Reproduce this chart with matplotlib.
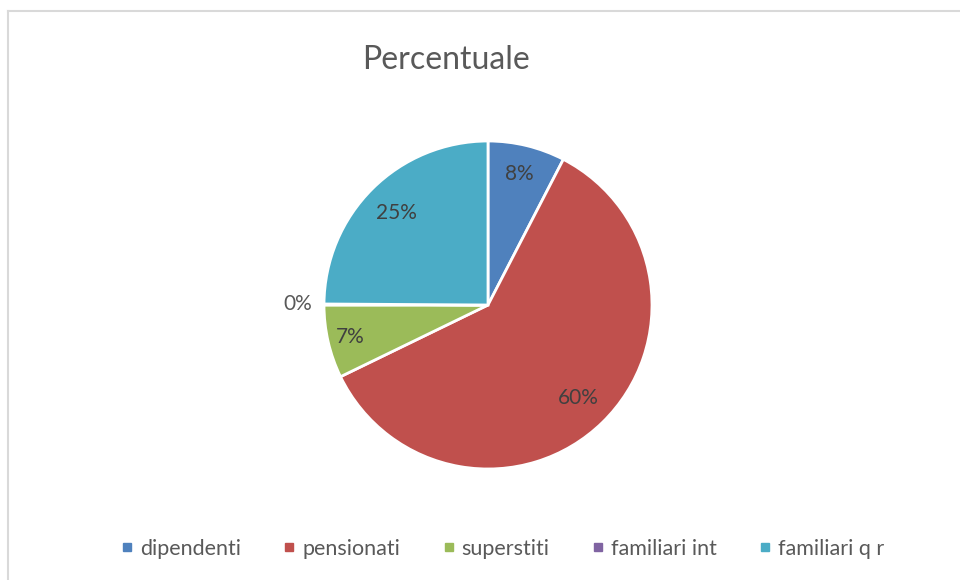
""" Grafico a torta: Percentuale
"""
import matplotlib.pyplot as plt
from matplotlib.lines import Line2D
import numpy as np

plt.rcParams['font.family'] = ['Lato', 'DejaVu Sans']

categorie = ["dipendenti", "pensionati", "superstiti", "familiari int", "familiari q r"]
valori = [7.6, 60.2, 7.2, 0.1, 24.9]
colori = ["#4F81BD", "#C0504D", "#9BBB59", "#8064A2", "#4BACC6"]
# distanza etichette dal centro (in raggi)
dist_etichette = [0.82, 0.79, 0.86, 1.16, 0.79]

W, H = 960, 580
fig = plt.figure(figsize=(W / 100, H / 100), dpi=100)

# cornice grigia
fig.add_artist(Line2D([8 / W, 1], [1 - 11 / H] * 2, color="#D9D9D9", lw=1.5))
fig.add_artist(Line2D([8 / W] * 2, [0, 1 - 11 / H], color="#D9D9D9", lw=1.5))

cx, cy, r = 488, 305, 164
ax = fig.add_axes([(cx - r) / W, (H - cy - r) / H, 2 * r / W, 2 * r / H])
wedges, _ = ax.pie(valori, colors=colori, startangle=90, counterclock=False,
                   wedgeprops=dict(edgecolor="white", linewidth=2, clip_on=False))
ax.set_xlim(-1, 1)
ax.set_ylim(-1, 1)
ax.set_aspect("auto")

for w, v, d in zip(wedges, valori, dist_etichette):
    ang = np.deg2rad((w.theta1 + w.theta2) / 2)
    col = "#595959" if d > 1 else "#404040"
    ax.text(d * np.cos(ang), d * np.sin(ang), "%.0f%%" % v,
            ha="center", va="center", fontsize=15, color=col)

fig.text(446 / W, 1 - 60 / H, "Percentuale", ha="center", va="center",
         fontsize=23, color="#595959")

handles = [Line2D([], [], marker="s", ls="", color=c, markersize=6) for c in colori]
fig.legend(handles, categorie, loc="center", bbox_to_anchor=(502 / W, 1 - 549 / H),
           ncol=5, frameon=False, fontsize=15.5, handletextpad=0.25,
           columnspacing=1.9, labelcolor="#595959", handlelength=0.7)

fig.savefig("out.png", dpi=100)
